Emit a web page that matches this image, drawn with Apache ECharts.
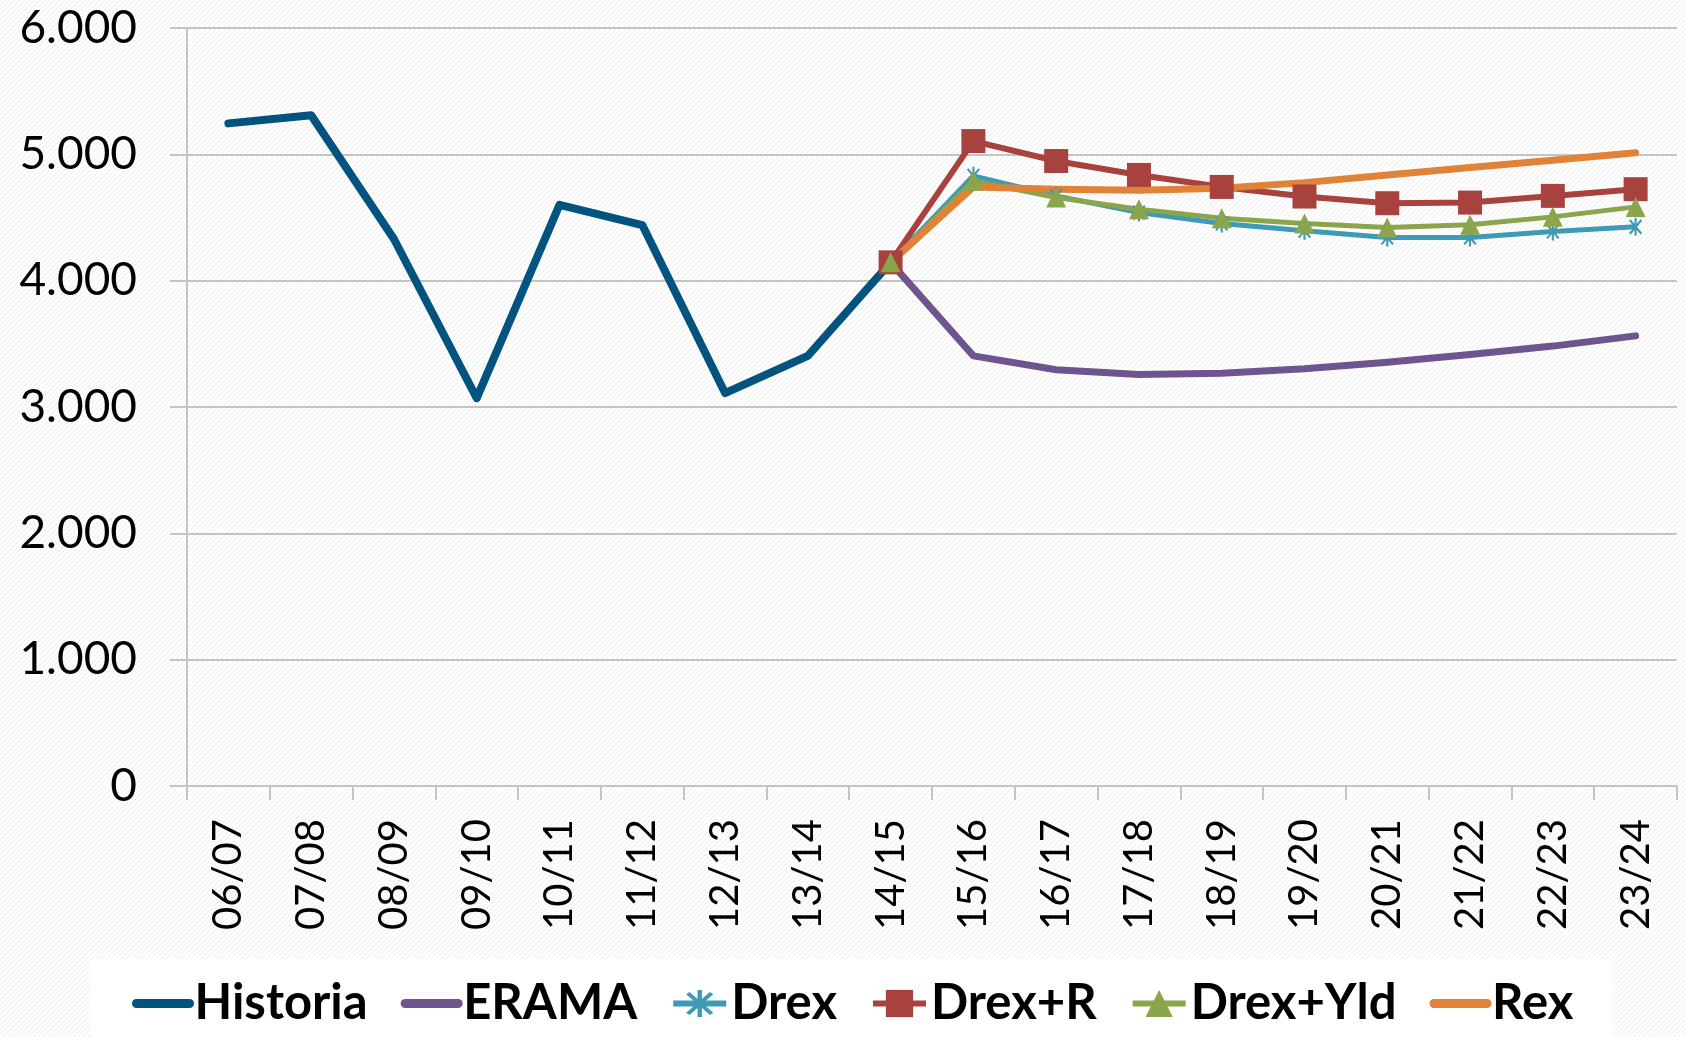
<!DOCTYPE html>
<html>
<head>
<meta charset="utf-8">
<script src="https://cdn.jsdelivr.net/npm/echarts@6/dist/echarts.min.js"></script>
<style>
  html, body { margin: 0; padding: 0; background: #fff; }
  #main { width: 1686px; height: 1037px; }
</style>
</head>
<body>
<div id="main"></div>
<script>
var seasons = ['06/07', '07/08', '08/09', '09/10', '10/11', '11/12', '12/13', '13/14', '14/15',
  '15/16', '16/17', '17/18', '18/19', '19/20', '20/21', '21/22', '22/23', '23/24'];

var historia = [5245, 5310, 4330, 3070, 4600, 4440, 3110, 3405, 4145,
  null, null, null, null, null, null, null, null, null];
var erama = [null, null, null, null, null, null, null, null, 4145,
  3405, 3295, 3258, 3268, 3303, 3355, 3416, 3482, 3563];
var drex = [null, null, null, null, null, null, null, null, 4145,
  4830, 4671, 4539, 4453, 4395, 4342, 4342, 4389, 4426];
var drexR = [null, null, null, null, null, null, null, null, 4145,
  5105, 4947, 4837, 4742, 4666, 4613, 4618, 4671, 4724];
var drexYld = [null, null, null, null, null, null, null, null, 4145,
  4790, 4658, 4566, 4495, 4453, 4421, 4442, 4505, 4584];
var rex = [null, null, null, null, null, null, null, null, 4145,
  4742, 4724, 4716, 4732, 4776, 4837, 4895, 4953, 5013];

// taustan vinoviivoitus
var pat = document.createElement('canvas');
pat.width = 5; pat.height = 5;
var c = pat.getContext('2d');
c.fillStyle = '#ffffff';
c.fillRect(0, 0, 5, 5);
c.strokeStyle = '#ececec';
c.lineWidth = 1;
c.beginPath();
c.moveTo(0, 5); c.lineTo(5, 0);
c.moveTo(-1, 1); c.lineTo(1, -1);
c.moveTo(4, 6); c.lineTo(6, 4);
c.stroke();

var asterisk = 'path://M-1.2,-10 L1.2,-10 L1.2,10 L-1.2,10 Z ' +
  'M-5.51,8.43 L-7.35,6.89 L5.51,-8.43 L7.35,-6.89 Z ' +
  'M7.35,6.89 L5.51,8.43 L-7.35,-6.89 L-5.51,-8.43 Z';

var chart = echarts.init(document.getElementById('main'));
var gridColor = '#c4c4c4';
var font = 'Lato';

// pelkkä viiva legendaan niille joilla ei ole merkkiä
function plainLine(name) {
  return { name: name, itemStyle: { opacity: 0 }, lineStyle: { width: 9, cap: 'round' } };
}
function markedLine(name) {
  return { name: name, lineStyle: { width: 6 } };
}

var option = {
  backgroundColor: { image: pat, repeat: 'repeat' },
  animation: false,
  grid: { left: 187, right: 9, top: 28, bottom: 251, outerBoundsMode: 'none' },
  legend: {
    left: 91,
    top: 959,
    padding: [20, 39, 12, 41],
    backgroundColor: '#ffffff',
    itemWidth: 53,
    itemHeight: 34,
    itemGap: 33,
    textStyle: { fontFamily: font, fontWeight: 'bold', fontSize: 49, color: '#000' },
    data: [plainLine('Historia'), plainLine('ERAMA'), markedLine('Drex'),
      markedLine('Drex+R'), markedLine('Drex+Yld'), plainLine('Rex')]
  },
  xAxis: {
    type: 'category',
    data: seasons,
    boundaryGap: true,
    axisLine: { lineStyle: { color: gridColor, width: 2 } },
    axisTick: { show: true, length: 14, lineStyle: { color: gridColor, width: 2 } },
    axisLabel: {
      rotate: 90,
      margin: 33,
      fontFamily: font,
      fontSize: 40,
      color: '#000',
      interval: 0
    }
  },
  yAxis: {
    type: 'value',
    min: 0,
    max: 6000,
    interval: 1000,
    axisLine: { show: true, lineStyle: { color: gridColor, width: 2 } },
    axisTick: { show: true, length: 17, lineStyle: { color: gridColor, width: 2 } },
    splitLine: { lineStyle: { color: gridColor, width: 2 } },
    axisLabel: {
      margin: 50,
      fontFamily: font,
      fontSize: 46,
      color: '#000',
      formatter: function (v) { return v === 0 ? '0' : (v / 1000) + '.000'; }
    }
  },
  series: [
    {
      name: 'Historia', type: 'line', data: historia,
      symbol: 'none', lineStyle: { color: '#02547f', width: 8, cap: 'round', join: 'round' },
      itemStyle: { color: '#02547f' }
    },
    {
      name: 'ERAMA', type: 'line', data: erama,
      symbol: 'none', lineStyle: { color: '#6e558f', width: 7, cap: 'round', join: 'round' },
      itemStyle: { color: '#6e558f' }
    },
    {
      name: 'Drex', type: 'line', data: drex,
      symbol: asterisk, symbolSize: 18, symbolKeepAspect: true,
      lineStyle: { color: '#3f9ab5', width: 5 },
      itemStyle: { color: '#3f9ab5' }
    },
    {
      name: 'Drex+R', type: 'line', data: drexR,
      symbol: 'rect', symbolSize: 24,
      lineStyle: { color: '#a7423f', width: 6 },
      itemStyle: { color: '#a7423f' }
    },
    {
      name: 'Drex+Yld', type: 'line', data: drexYld,
      symbol: 'triangle', symbolSize: [20, 20],
      lineStyle: { color: '#8aa54b', width: 5 },
      itemStyle: { color: '#8aa54b' }
    },
    {
      name: 'Rex', type: 'line', data: rex,
      symbol: 'none', lineStyle: { color: '#e08339', width: 7, cap: 'round', join: 'round' },
      itemStyle: { color: '#e08339' }
    }
  ]
};

chart.setOption(option);
</script>
</body>
</html>
